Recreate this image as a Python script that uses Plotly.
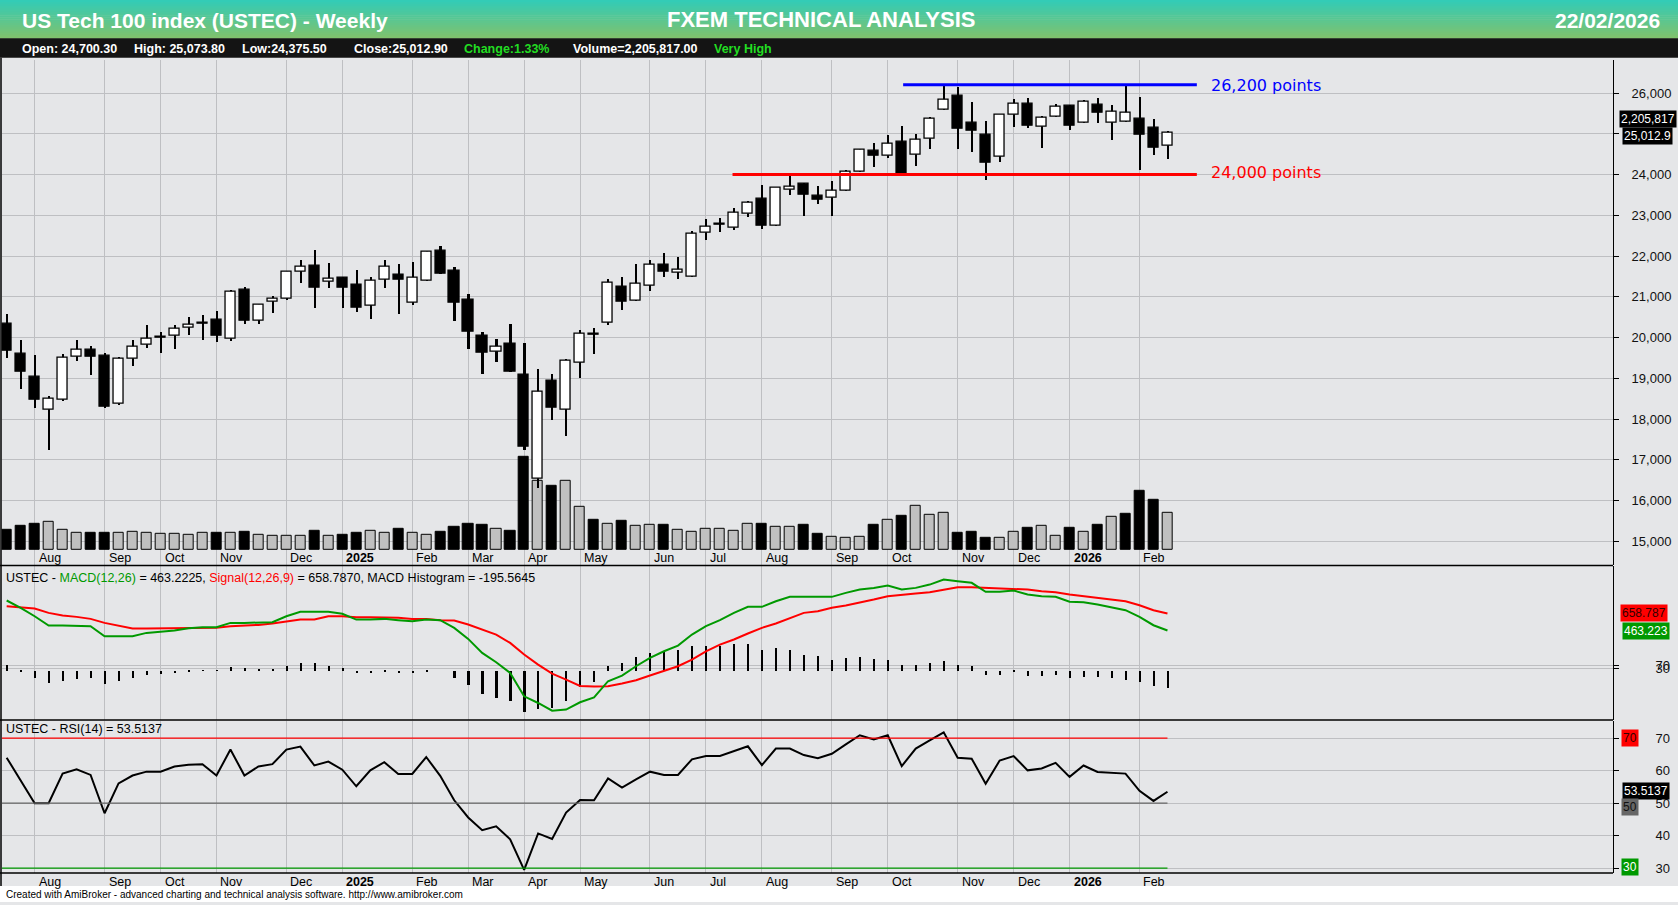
import plotly.graph_objects as go
import pandas as pd

W, H = 1678, 905
# ---------------- data ----------------
opens = [20350,19594,19049,18236,18480,19537,19707,19561,18382,19488,19829,19992,20049,20244,20340,20439,19976,21179,20415,20878,
         20951,21610,21764,21366,21472,21301,20772,21415,21537,20846,21390,22122,21634,20927,20049,19659,19854,19098,16537,18951,
         18220,19390,20065,20366,21244,20894,21268,21780,21585,21488,22561,22780,22683,23041,23398,22748,23634,23764,23488,23431,
         23602,24057,24585,24472,24805,24496,24870,25577,25927,25268,24976,24431,25455,25732,25179,25423,25683,25260,25699,25260,
         25301,25366,25146,24700.3]
highs = [20594,19935,19569,18561,19594,19935,19789,19634,19537,19951,20325,20130,20317,20520,20569,20667,21179,21244,20837,21024,
         21650,21911,22154,21837,21488,21667,21496,21911,21813,21862,22122,22252,21740,21081,20130,19959,20350,19862,19236,19106,
         19472,20179,20252,21447,21496,21813,21911,22081,21984,22618,22911,22935,23179,23358,23740,23683,23992,23805,23732,23854,
         24122,24626,24780,24967,25195,25000,25415,26195,26154,25780,25317,25463,25854,25878,25431,25732,25707,25829,25878,25707,
         26195,25902,25366,25073.8]
lows = [19504,18748,18285,17244,18439,19423,19089,18285,18358,19309,19748,19626,19724,20065,19943,19894,19927,20333,20333,20618,
        20919,21350,20724,21211,20740,20642,20472,21211,20594,20800,21390,21577,20407,19724,19114,19407,19163,17236,16309,17992,
        17585,19016,19602,20309,20675,20894,21138,21480,21431,21488,22407,22602,22650,22967,22675,22732,23504,22992,23293,22984,
        23602,24057,24179,24423,24000,24220,24642,25577,24642,24569,23862,24325,25179,25154,24659,25423,25106,25260,25276,24854,
        25301,24122,24488,24375.5]
closes = [19675,19163,18480,18488,19512,19707,19537,18290,19488,19780,19976,19985,20220,20317,20330,20041,21122,20406,20805,20951,
          21618,21748,21228,21439,21228,20740,21398,21732,21407,21463,22098,21577,20854,20146,19626,19764,19163,17333,18659,18285,
          19439,20098,20057,21341,20870,21317,21780,21626,21659,22537,22707,22775,23073,23317,22748,23683,23707,23504,23374,23602,
          24065,24610,24472,24748,24000,24846,25358,25846,25122,25081,24276,25463,25724,25195,25382,25650,25195,25780,25504,25528,
          25512,24984,24659,25012.9]
volumes = [1161000,1393000,1509000,1625000,1161000,987000,987000,987000,987000,1045000,987000,929000,929000,871000,987000,987000,
           987000,1045000,871000,813000,813000,813000,1103000,813000,871000,987000,1103000,987000,1219000,987000,871000,1045000,
           1335000,1509000,1451000,1219000,1103000,5457000,4063000,3773000,4063000,2554000,1741000,1509000,1683000,1393000,1451000,
           1451000,1161000,1045000,1219000,1219000,1103000,1509000,1509000,1335000,1335000,1451000,929000,755000,697000,755000,
           1451000,1741000,1974000,2612000,2032000,2148000,987000,1045000,697000,697000,1045000,1277000,1393000,813000,1277000,
           1045000,1451000,1916000,2090000,3483000,2960000,2205817]
macd = [808,724,627,520,520,520,513,398,398,398,436,448,463,490,501,501,551,551,551,559,627,678,678,678,655,589,589,597,582,570,
        589,582,494,367,206,99,-24,-292,-369,-457,-445,-361,-305,-119,-54,53,149,225,290,417,513,582,666,735,735,800,850,850,850,
        850,896,934,953,980,934,953,991,1049,1030,1011,908,908,923,877,858,850,793,789,762,731,697,620,524,463.2225]
signal = [743,730,716,666,636,620,597,551,520,486,486,486,486,494,494,494,513,520,528,544,570,589,589,627,627,617,617,617,609,597,
          597,582,578,532,475,417,321,187,72,-31,-100,-173,-180,-177,-146,-108,-54,-5,53,130,225,302,360,429,494,544,609,666,685,
          724,750,781,819,858,869,888,904,934,961,961,954,954,942,934,915,904,877,858,839,819,800,754,697,658.787]
rsi = [64.0,57.0,50.0,50.0,59.1,60.4,58.7,46.9,56.1,58.5,59.7,59.7,61.3,61.8,62.0,58.5,66.5,58.5,61.3,62.0,66.5,67.4,61.6,62.8,
       60.3,55.2,60.1,62.6,59.0,59.0,64.2,58.4,50.9,45.6,41.7,42.9,38.9,29.5,40.7,39.0,47.1,51.0,50.9,57.6,54.8,57.3,59.7,58.7,
       58.7,63.5,64.5,64.5,66.0,67.5,61.7,66.8,66.8,64.8,63.8,65.2,68.1,70.9,69.6,70.9,61.4,66.8,69.3,71.8,64.0,63.7,56.0,63.1,
       64.5,60.1,60.7,62.4,58.1,61.6,59.6,59.4,59.1,53.8,50.7,53.5137]
last_date = "2026-02-20"
resistance, support = 26200, 24000

n = len(closes)
idx = list(range(1, n + 1))
dates = pd.date_range(end=last_date, periods=n, freq="7D")

def yp(px): return 1 - px / H
def xp(px): return px / W

BG = "#E5E6E8"
GRID = "#BEBFC2"
FONT = "Liberation Sans"
XR = [1 - 5/14, (1613 - 5)/14 + 1]

fig = go.Figure()

vcol = ["#C0C0C0" if (i > 0 and closes[i] >= closes[i-1]) else "black" for i in range(n)]
fig.add_trace(go.Bar(x=idx, y=volumes, width=0.72, marker=dict(color=vcol, line=dict(color="black", width=1)),
                     xaxis="x", yaxis="y", hoverinfo="skip"))
fig.add_trace(go.Bar(x=idx, y=[h - l for h, l in zip(highs, lows)], base=lows, width=0.15,
                     marker=dict(color="black", line=dict(width=0)), xaxis="x", yaxis="y4", hoverinfo="skip"))
body_base = [min(o, c) for o, c in zip(opens, closes)]
body_h = [max(abs(c - o), 28) for o, c in zip(opens, closes)]
body_col = ["white" if c > o else "black" for o, c in zip(opens, closes)]
fig.add_trace(go.Bar(x=idx, y=body_h, base=body_base, width=0.72,
                     marker=dict(color=body_col, line=dict(color="black", width=1.3)), xaxis="x", yaxis="y4", hoverinfo="skip"))

hist = [m - s for m, s in zip(macd, signal)]
fig.add_trace(go.Bar(x=idx, y=hist, width=0.15, marker=dict(color="black", line=dict(width=0)), xaxis="x2", yaxis="y2"))
fig.add_trace(go.Scatter(x=idx, y=signal, mode="lines", line=dict(color="#FF0000", width=2), xaxis="x2", yaxis="y2"))
fig.add_trace(go.Scatter(x=idx, y=macd, mode="lines", line=dict(color="#009900", width=2), xaxis="x2", yaxis="y2"))
fig.add_trace(go.Scatter(x=idx, y=rsi, mode="lines", line=dict(color="black", width=2), xaxis="x3", yaxis="y3"))

mpos, mlab = [], []
for i in range(1, n):
    if dates[i].month != dates[i-1].month:
        mpos.append(i + 1)
        mlab.append(f"<b>{dates[i].year}</b>" if dates[i].month == 1 else dates[i].strftime("%b"))

xcommon = dict(range=XR, tickmode="array", tickvals=mpos, showticklabels=False, showgrid=True, gridcolor=GRID,
               gridwidth=1, zeroline=False, fixedrange=True, domain=[0.001, xp(1613)])
ycommon = dict(side="right", showgrid=True, gridcolor=GRID, zeroline=False, ticks="outside", ticklen=5,
               tickcolor="black", tickfont=dict(family=FONT, size=13, color="#111"), showline=True,
               linecolor="black", linewidth=1)

fig.update_layout(
    width=W, height=H, margin=dict(l=0, r=0, t=0, b=0), paper_bgcolor=BG, plot_bgcolor=BG,
    showlegend=False, barmode="overlay", bargap=0,
    xaxis=dict(**xcommon, anchor="y"),
    xaxis2=dict(**xcommon, anchor="y2", matches="x"),
    xaxis3=dict(**xcommon, anchor="y3", matches="x"),
    yaxis=dict(domain=[yp(567), yp(60)], range=[-15 * 58048, 492 * 58048], showgrid=False, showticklabels=False,
               zeroline=False, anchor="x"),
    yaxis4=dict(**ycommon, overlaying="y", anchor="x", range=[14418, 26815], tickvals=list(range(15000, 26001, 1000)),
                tickformat=",", ticklabelstandoff=10),
    yaxis2=dict(**ycommon, domain=[yp(722), yp(568)], range=[-560, 1203], tickvals=[25, 60], ticktext=["30", "70"],
                anchor="x2", ticklabelstandoff=34),
    yaxis3=dict(**ycommon, domain=[yp(876), yp(723)], range=[28.5, 75.4], tickvals=[30, 40, 50, 60, 70], anchor="x3",
                ticklabelstandoff=34),
)

shapes = []
c0, c1 = (0x33, 0xCC, 0xB6), (0x80, 0xC2, 0x6E)
steps = 20
for k in range(steps):
    t = k / (steps - 1)
    col = "rgb(%d,%d,%d)" % tuple(int(a + (b - a) * t) for a, b in zip(c0, c1))
    y0 = 38.5 * k / steps
    y1 = 38.5 * (k + 1) / steps + 0.5
    shapes.append(dict(type="rect", xref="paper", yref="paper", x0=0, x1=1, y0=yp(y1), y1=yp(y0),
                       fillcolor=col, line=dict(width=0), layer="below"))
shapes.append(dict(type="rect", xref="paper", yref="paper", x0=0, x1=1, y0=yp(58), y1=yp(38.5),
                   fillcolor="#141414", line=dict(width=0), layer="below"))
shapes.append(dict(type="rect", xref="paper", yref="paper", x0=0, x1=1, y0=0, y1=yp(889),
                   fillcolor="white", line=dict(width=0), layer="below"))
for ypx in (567.5, 722.5, 876):
    shapes.append(dict(type="line", xref="paper", yref="paper", x0=0, x1=xp(1613), y0=yp(ypx), y1=yp(ypx),
                       line=dict(color="black", width=1.5)))
shapes.append(dict(type="line", xref="paper", yref="paper", x0=0.0006, x1=0.0006, y0=yp(889), y1=yp(58),
                   line=dict(color="black", width=1.5)))
shapes.append(dict(type="line", xref="x", yref="y4", x0=65.1, x1=86.1, y0=resistance, y1=resistance,
                   line=dict(color="#0000FF", width=3)))
shapes.append(dict(type="line", xref="x", yref="y4", x0=52.9, x1=86.1, y0=support, y1=support,
                   line=dict(color="#FF0000", width=3)))
for lvl, col in ((70, "#FF0000"), (50, "#666666"), (30, "#009900")):
    shapes.append(dict(type="line", xref="x3", yref="y3", x0=XR[0], x1=n, y0=lvl, y1=lvl, line=dict(color=col, width=1.2)))
fig.update_layout(shapes=shapes)

ann = []
def A(x, y, text, size=13, color="black", anchor="left", bold=False, family=FONT, bg=None, yanchor="middle", **kw):
    d = dict(x=xp(x), y=yp(y), xref="paper", yref="paper", text=f"<b>{text}</b>" if bold else text, showarrow=False,
             xanchor=anchor, yanchor=yanchor, font=dict(family=family, size=size, color=color))
    if bg:
        d.update(bgcolor=bg, borderpad=1)
    d.update(kw)
    ann.append(d)

NARROW = "Liberation Sans"
A(20, 21, "US Tech 100 index (USTEC) - Weekly", size=21, color="white", bold=True, family=NARROW)
A(821, 20, "FXEM TECHNICAL ANALYSIS", size=22, color="white", bold=True, family=NARROW, anchor="center")
A(1662, 21, "22/02/2026", size=21, color="white", bold=True, family=NARROW, anchor="right")
for x, t, c in ((20, "Open: 24,700.30", "white"), (132, "High: 25,073.80", "white"), (240, "Low:24,375.50", "white"),
                (352, "Close:25,012.90", "white"), (462, "Change:1.33%", "#22DD22"),
                (571, "Volume=2,205,817.00", "white"), (712, "Very High", "#22DD22")):
    A(x, 49, t, size=12.5, color=c, bold=True, family=NARROW)

A(1209, 86, "26,200 points", size=16, color="#0000FF", family="DejaVu Sans")
A(1209, 173, "24,000 points", size=16, color="#FF0000", family="DejaVu Sans")

A(4, 580, "USTEC - <span style='color:#009900'>MACD(12,26)</span> = 463.2225, <span style='color:#FF0000'>Signal(12,26,9)</span> = 658.7870, MACD Histogram = -195.5645",
  size=12.5)
A(4, 731, "USTEC - RSI(14) = 53.5137", size=12.5)
A(4, 897, "Created with AmiBroker - advanced charting and technical analysis software. http://www.amibroker.com", size=10)

for pos, lab in zip(mpos, mlab):
    for ypx in (560, 885):
        ann.append(dict(x=pos, y=yp(ypx), xref="x", yref="paper", text=lab, showarrow=False, xanchor="left",
                        yanchor="middle", xshift=2, font=dict(family=FONT, size=12.5, color="black")))

A(1619, 119, "2,205,817", size=12, color="white", bg="black")
A(1622, 136, "25,012.9", size=12, color="white", bg="black")
A(1620, 615, "658.787", size=12, color="#330000", bg="#FF0000")
A(1622, 633, "463.223", size=12, color="white", bg="#009900")
A(1621, 740, "70", size=12, color="#330000", bg="#FF0000")
A(1622, 794, "53.5137", size=12, color="white", bg="black")
A(1621, 810, "50", size=12, color="#111", bg="#666666")
A(1621, 870, "30", size=12, color="white", bg="#009900")
fig.update_layout(annotations=ann)

fig.write_html("out.html", config={"displayModeBar": False},
               post_script="document.body.style.margin='0';document.body.style.overflow='hidden';")
